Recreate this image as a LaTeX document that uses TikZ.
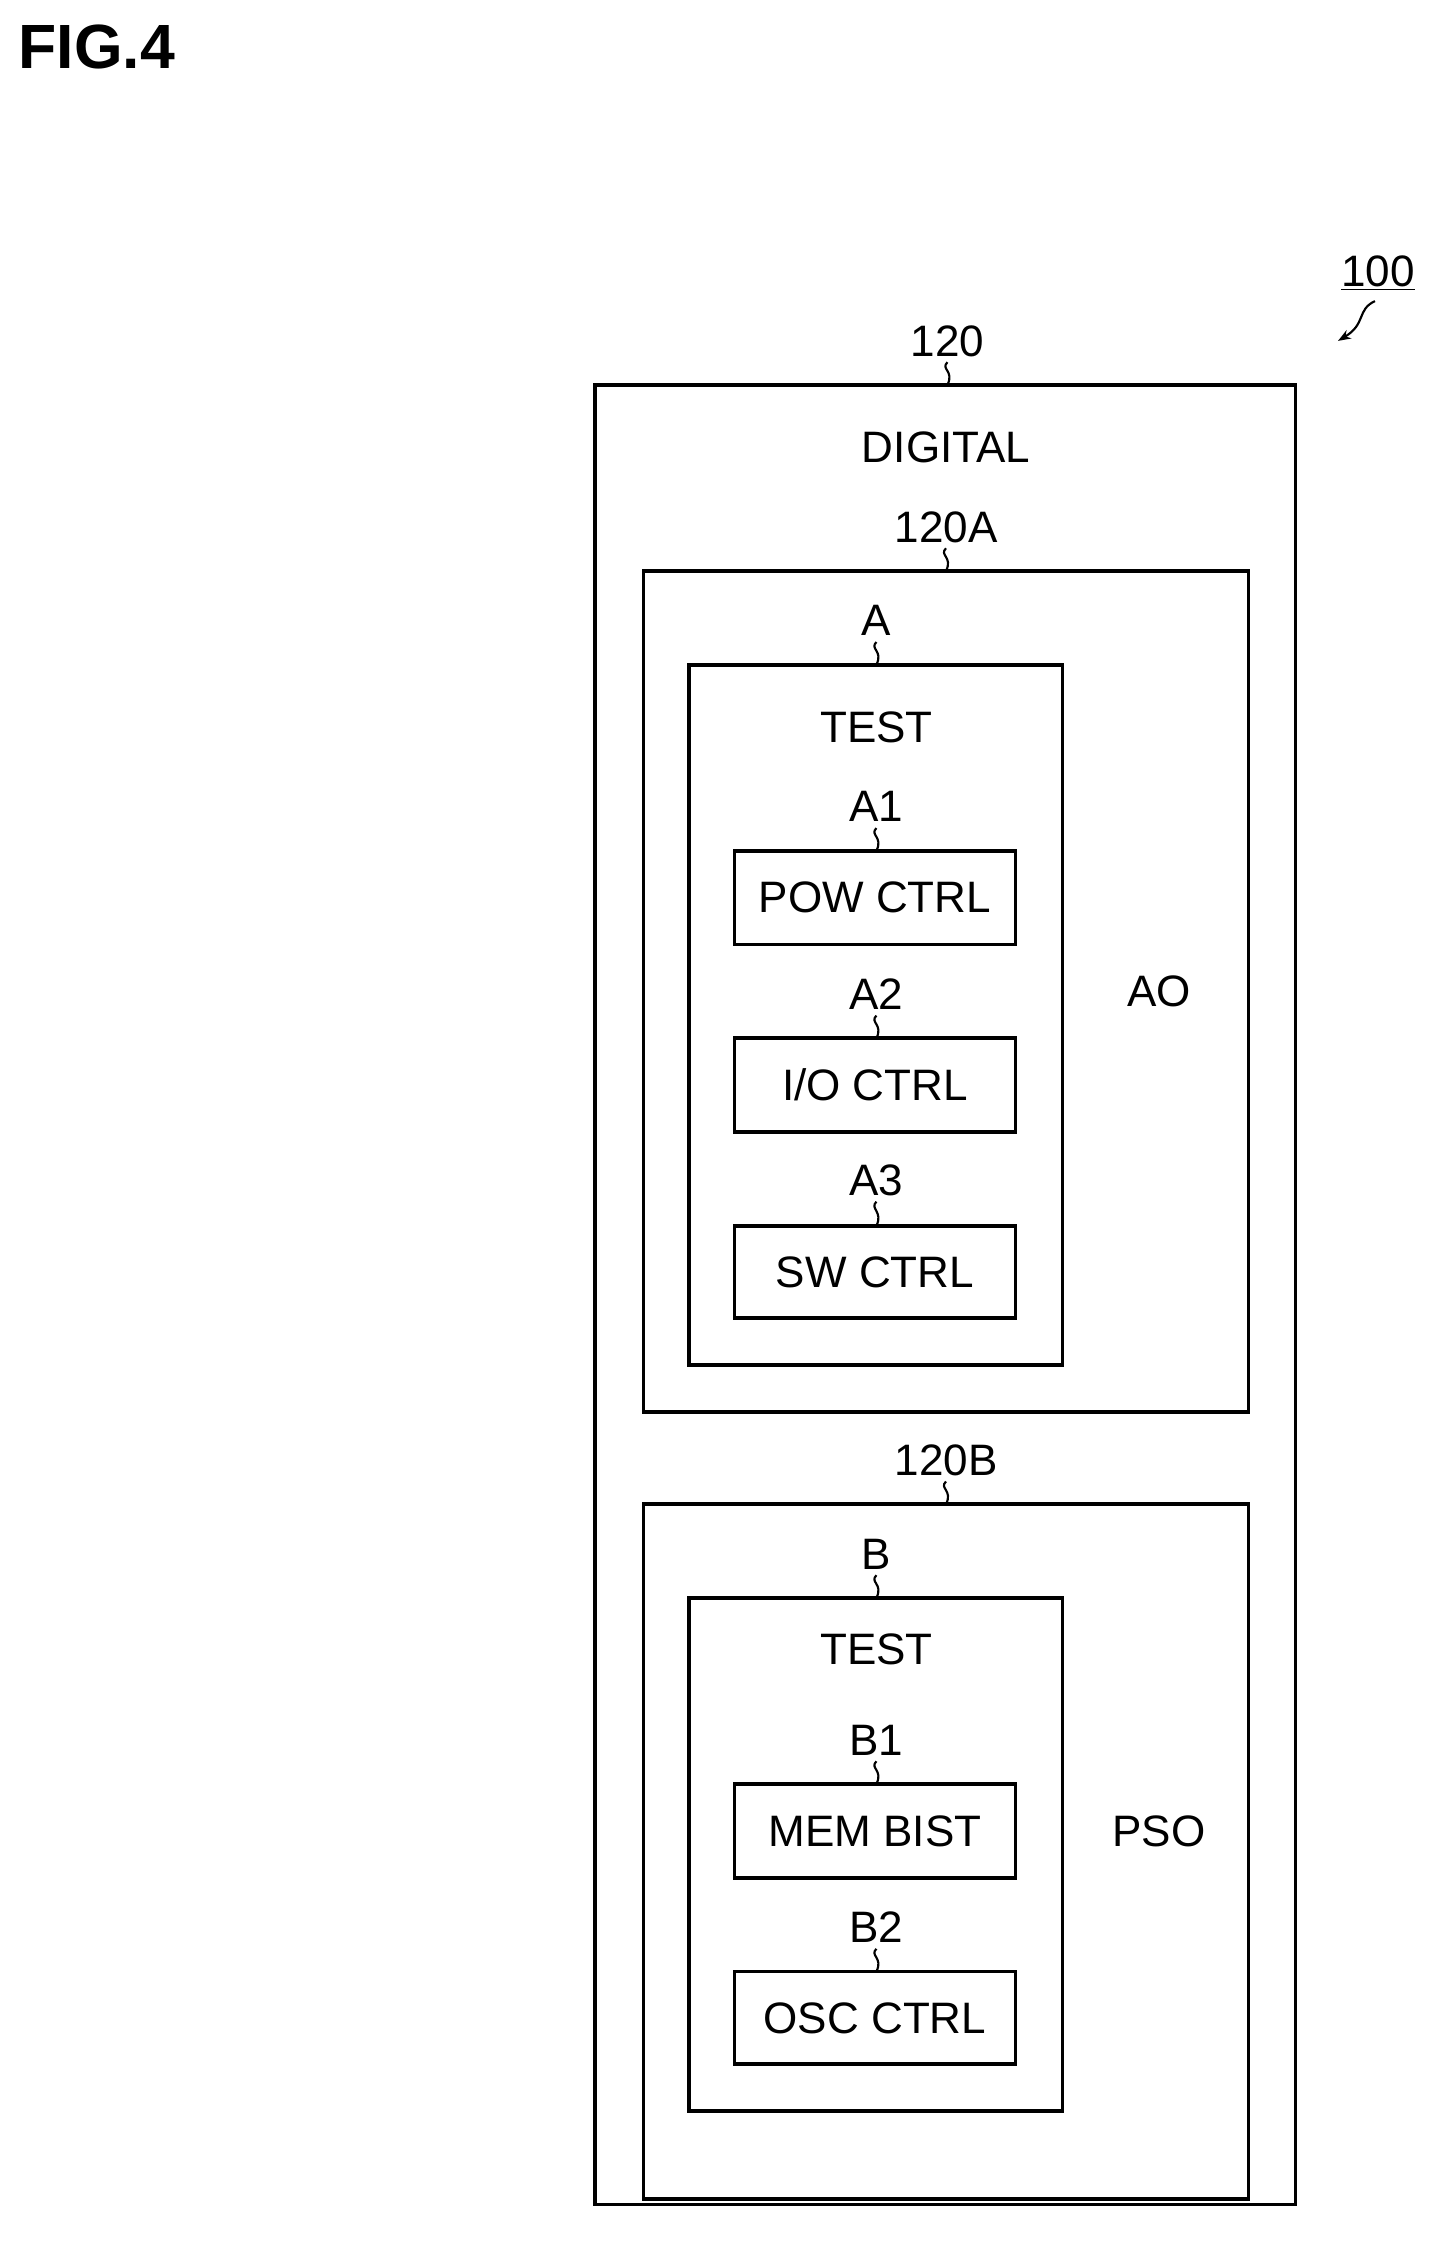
\documentclass[tikz,border=0pt]{standalone}
\usepackage{fontspec}
\setmainfont{Liberation Sans}
\usetikzlibrary{arrows.meta}
\begin{document}
\begin{tikzpicture}[x=1pt,y=-1pt,
  box/.style={draw,line width=2.6pt},
  lbl/.style={font=\fontsize{31}{31}\selectfont,inner sep=0pt},
  sq/.style={line width=1.5pt}]
\useasboundingbox (0,0) rectangle (1024,1589);
\node[font=\fontsize{44}{44}\selectfont\bfseries,inner sep=0pt] (fig) at (68,33) {FIG.4};
% boxes
\draw[box] (419,271) rectangle (912,1552);
\draw[box] (453,402) rectangle (879,994);
\draw[box] (485,468) rectangle (748,961);
\draw[box] (517,599) rectangle (715,665);
\draw[box] (517,731) rectangle (715,797);
\draw[box] (517,863) rectangle (715,928);
\draw[box] (453,1059) rectangle (879,1548);
\draw[box] (485,1125) rectangle (748,1486);
\draw[box] (517,1256) rectangle (715,1322);
\draw[box] (517,1388) rectangle (715,1453);
% texts
\node[lbl] (t120) at (667,240) {120};
\node[lbl] (dig) at (666,315) {DIGITAL};
\node[lbl] (t120A) at (666,371) {120A};
\node[lbl] (tA) at (617,437) {A};
\node[lbl] (test1) at (617,512) {TEST};
\node[lbl] (tA1) at (617,568) {A1};
\node[lbl] (pow) at (616,632) {POW CTRL};
\node[lbl] (tA2) at (617,700) {A2};
\node[lbl] (io) at (616,764) {I/O CTRL};
\node[lbl] (tA3) at (617,831) {A3};
\node[lbl] (sw) at (616,896) {SW CTRL};
\node[lbl] (ao) at (816,698) {AO};
\node[lbl] (t120B) at (666,1028) {120B};
\node[lbl] (tB) at (617,1094) {B};
\node[lbl] (test2) at (617,1161) {TEST};
\node[lbl] (tB1) at (617,1225) {B1};
\node[lbl] (mem) at (616,1289) {MEM BIST};
\node[lbl] (tB2) at (617,1357) {B2};
\node[lbl] (osc) at (616,1421) {OSC CTRL};
\node[lbl] (pso) at (816,1289) {PSO};
\node[lbl] (t100) at (970,192) {\underline{100}};
% squiggles
\foreach \x/\a/\b in {667/255/271, 666/386/402, 617/452/468, 617/583/599, 617/715/731, 617/846/863, 666/1043/1059, 617/1109/1125, 617/1240/1256, 617/1372/1388}{
  \draw[sq] (\x,\a) .. controls (\x-5,\a+5) and (\x+5,\b-10) .. (\x,\b);
}
\coordinate (c100) at (942,240);
\draw[sq,-{Stealth[length=9pt]}] (968,212) .. controls (955,218) and (962,228) .. (c100);
\end{tikzpicture}
\end{document}
